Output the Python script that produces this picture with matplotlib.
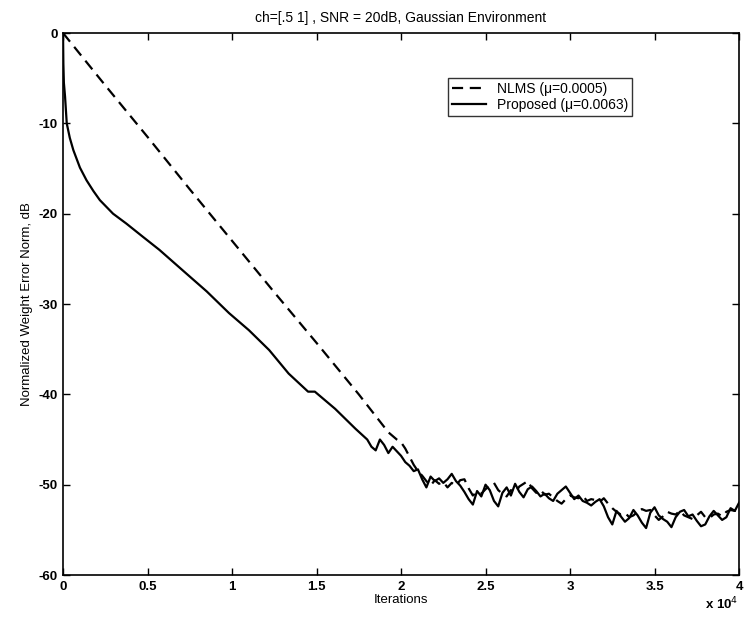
import numpy as np
import matplotlib.pyplot as plt

# iterations (thousands) and weight error norm (dB)
nlms_k = [0, 2.5, 5, 7.5, 10, 12.5, 15, 17.5,
          19.0, 19.25, 19.5, 19.75, 20.0, 20.25, 20.5, 20.75, 21.0, 21.25, 21.5, 21.75,
          22.0, 22.25, 22.5, 22.75, 23.0, 23.25, 23.5, 23.75, 24.0, 24.25, 24.5, 24.75,
          25.0, 25.25, 25.5, 25.75, 26.0, 26.25, 26.5, 26.75, 27.0, 27.25, 27.5, 27.75,
          28.0, 28.25, 28.5, 28.75, 29.0, 29.25, 29.5, 29.75, 30.0, 30.25, 30.5, 30.75,
          31.0, 31.25, 31.5, 31.75, 32.0, 32.25, 32.5, 32.75, 33.0, 33.25, 33.5, 33.75,
          34.0, 34.25, 34.5, 34.75, 35.0, 35.25, 35.5, 35.75, 36.0, 36.25, 36.5, 36.75,
          37.0, 37.25, 37.5, 37.75, 38.0, 38.25, 38.5, 38.75, 39.0, 39.25, 39.5, 39.75, 40.0]
nlms_db = [0, -5.8, -11.5, -17.3, -23.0, -28.7, -34.3, -40.0,
           -43.6, -44.2, -44.6, -45.0, -45.3, -46.0, -46.9, -47.8, -48.5, -49.0, -49.6, -50.1,
           -49.5, -49.9, -49.7, -50.3, -49.8, -50.1, -49.5, -49.4, -50.4, -51.2, -50.8, -51.0,
           -50.5, -50.1, -49.8, -50.6, -51.0, -51.3, -50.6, -50.9, -50.2, -49.9, -49.6, -50.4,
           -50.9, -50.6, -51.1, -51.0, -51.4, -51.8, -52.1, -51.6, -51.2, -51.4, -51.5, -51.2,
           -51.8, -51.6, -51.7, -51.9, -51.5, -52.1, -52.6, -53.0, -53.3, -53.1, -53.6, -53.4,
           -53.0, -52.7, -52.9, -52.8, -53.4, -53.9, -53.5, -53.0, -53.2, -53.3, -52.9, -53.4,
           -53.6, -53.8, -53.4, -53.0, -53.6, -53.7, -53.3, -53.2, -53.5, -53.0, -52.8, -52.9, -52.6]

prop_k = [0, 0.02, 0.05, 0.12, 0.22, 0.4, 0.61, 1.0, 1.39, 1.8, 2.18, 2.96, 3.75, 4.72,
          5.7, 7.28, 8.5, 9.82, 11.0, 12.2, 13.35, 14.5, 14.9, 16.1, 16.7, 17.3,
          18.0, 18.25, 18.5, 18.75, 19.0, 19.25, 19.5, 19.75, 20.0, 20.25, 20.5, 20.75,
          21.0, 21.25, 21.5, 21.75, 22.0, 22.25, 22.5, 22.75, 23.0, 23.25, 23.5, 23.75,
          24.0, 24.25, 24.5, 24.75, 25.0, 25.25, 25.5, 25.75, 26.0, 26.25, 26.5, 26.75,
          27.0, 27.25, 27.5, 27.75, 28.0, 28.25, 28.5, 28.75, 29.0, 29.25, 29.5, 29.75,
          30.0, 30.25, 30.5, 30.75, 31.0, 31.25, 31.5, 31.75, 32.0, 32.25, 32.5, 32.75,
          33.0, 33.25, 33.5, 33.75, 34.0, 34.25, 34.5, 34.75, 35.0, 35.25, 35.5, 35.75,
          36.0, 36.25, 36.5, 36.75, 37.0, 37.25, 37.5, 37.75, 38.0, 38.25, 38.5, 38.75,
          39.0, 39.25, 39.5, 39.75, 40.0]
prop_db = [0, -3.4, -5.5, -7.05, -10.0, -11.6, -12.96, -14.9, -16.3, -17.5, -18.5, -20.0, -21.1, -22.55,
           -24.0, -26.6, -28.6, -31.0, -32.9, -35.1, -37.7, -39.7, -39.7, -41.6, -42.7, -43.8,
           -45.0, -45.8, -46.2, -45.0, -45.6, -46.5, -45.8, -46.3, -46.8, -47.5, -47.9, -48.5,
           -48.3, -49.4, -50.3, -49.1, -49.6, -49.3, -49.8, -49.4, -48.8, -49.6, -50.1, -50.8,
           -51.6, -52.2, -50.7, -51.3, -50.0, -50.6, -51.8, -52.4, -50.9, -50.3, -51.2, -49.9,
           -50.8, -51.4, -50.5, -50.2, -50.7, -51.3, -51.0, -51.5, -51.8, -51.0, -50.6, -50.2,
           -50.9, -51.6, -51.2, -51.8, -52.0, -52.3, -51.9, -51.6, -52.4, -53.6, -54.4, -52.9,
           -53.5, -54.1, -53.7, -52.8, -53.4, -54.2, -54.8, -53.1, -52.5, -53.4, -53.8, -54.1,
           -54.7, -53.6, -53.0, -52.8, -53.5, -53.3, -54.0, -54.6, -54.4, -53.5, -52.9, -53.4,
           -53.9, -53.6, -52.6, -52.9, -52.0]

xticks = [0, 0.5, 1, 1.5, 2, 2.5, 3, 3.5, 4]
yticks = [0, -10, -20, -30, -40, -50, -60]

plt.rcParams['font.family'] = ['Liberation Sans', 'DejaVu Sans']

fig = plt.figure(figsize=(7.45, 6.23), dpi=100)
ax = fig.add_axes([0.0846, 0.077, 0.9074, 0.870])

ax.plot(np.array(nlms_k) * 1000, nlms_db, 'k--', lw=1.6, dashes=(5, 3),
        label='NLMS (\u03bc=0.0005)')
ax.plot(np.array(prop_k) * 1000, prop_db, 'k-', lw=1.6,
        label='Proposed (\u03bc=0.0063)')

ax.set_xlim(0, 40000)
ax.set_ylim(-60, 0)
ax.set_xticks([t * 1e4 for t in xticks])
ax.set_xticklabels([('%g' % t) for t in xticks], fontweight='bold')
ax.set_yticks(yticks)
ax.set_yticklabels([str(t) for t in yticks], fontweight='bold')
ax.tick_params(direction='in', length=5, width=1, labelsize=9.5,
               top=True, right=True, pad=4)
for s in ax.spines.values():
    s.set_linewidth(1.2)

ax.set_xlabel('Iterations', fontsize=9.5, labelpad=1)
ax.set_ylabel('Normalized Weight Error Norm, dB', fontsize=9.5, labelpad=4)
ax.set_title('ch=[.5 1] , SNR = 20dB, Gaussian Environment', fontsize=10, pad=8)
fig.text(0.968, 0.022, r'x 10$^4$', fontsize=9.5, fontweight='bold', ha='center')

leg = ax.legend(loc='upper right', bbox_to_anchor=(0.852, 0.93), fontsize=10,
                frameon=True, fancybox=False, edgecolor='black', handlelength=2.4,
                borderpad=0.3, labelspacing=0.15, handletextpad=0.8)
leg.get_frame().set_linewidth(1.0)

fig.savefig('out.png', dpi=100)
